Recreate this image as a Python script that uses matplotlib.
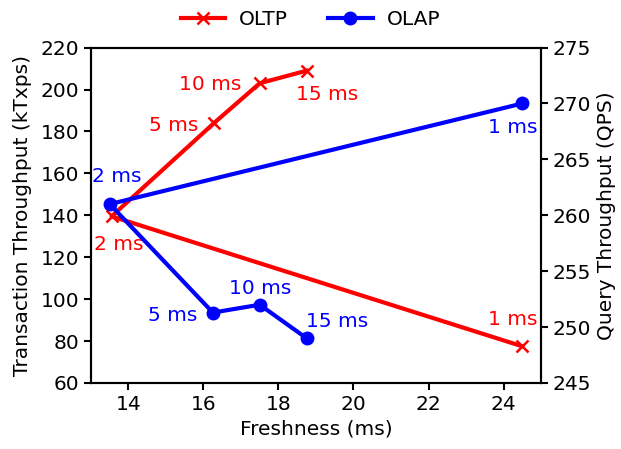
import matplotlib
matplotlib.use("Agg")
from matplotlib import pyplot as plt

# freshness (ms) measured for each sync interval
intervals = ["1 ms", "2 ms", "5 ms", "10 ms", "15 ms"]
oltp_fresh = [24.5, 13.55, 16.28, 17.5, 18.75]
oltp_tput = [77.5, 139.5, 184, 203, 209]  # kTxps
olap_fresh = [24.5, 13.5, 16.25, 17.5, 18.75]
olap_tput = [270, 261, 251.3, 252, 249]  # QPS

# label offsets in points (dx, dy)
oltp_off = [(-7, 19), (5, -20), (-29, -2), (-36, -1), (15, -17)]
olap_off = [(-7, -17), (5, 20), (-29, -2), (0, 12), (22, 12)]

plt.rcParams["font.size"] = 14.5

fig = plt.figure(figsize=(6.21, 4.49), dpi=100)
ax = fig.add_subplot(111)
ax2 = ax.twinx()
fig.subplots_adjust(left=0.1465, right=0.8712, top=0.894, bottom=0.147)

l1, = ax.plot(oltp_fresh, oltp_tput, color="red", marker="x", lw=3,
              ms=9, mew=1.8, label="OLTP")
l2, = ax2.plot(olap_fresh, olap_tput, color="blue", marker="o", lw=3,
               ms=9, label="OLAP")

for lab, x, y, off in zip(intervals, oltp_fresh, oltp_tput, oltp_off):
    ax.annotate(lab, (x, y), xytext=off, textcoords="offset points",
                ha="center", va="center", color="red")
for lab, x, y, off in zip(intervals, olap_fresh, olap_tput, olap_off):
    ax2.annotate(lab, (x, y), xytext=off, textcoords="offset points",
                 ha="center", va="center", color="blue")

ax.set_xlim(13, 25)
ax.set_ylim(60, 220)
ax2.set_ylim(245, 275)
ax.set_xticks([14, 16, 18, 20, 22, 24])
ax.set_xlabel("Freshness (ms)")
ax.set_ylabel("Transaction Throughput (kTxps)", labelpad=6)
ax2.set_ylabel("Query Throughput (QPS)")

for a in (ax, ax2):
    for s in a.spines.values():
        s.set_linewidth(1.5)
    a.tick_params(width=1.5, length=5)

fig.legend(handles=[l1, l2], loc="lower center", ncol=2, frameon=False,
           bbox_to_anchor=(0.5, 0.93), columnspacing=2.0, handlelength=2.2,
           handletextpad=0.7, borderaxespad=0, borderpad=0.1)

plt.savefig("out.png", dpi=100)
